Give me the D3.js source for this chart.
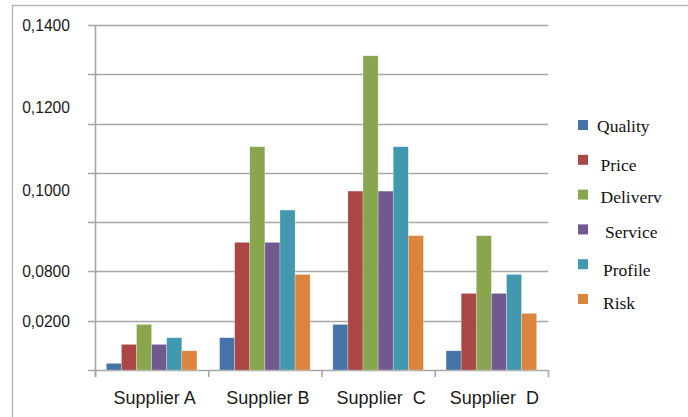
<!DOCTYPE html>
<html>
<head>
<meta charset="utf-8">
<script src="https://cdn.jsdelivr.net/npm/d3@7"></script>
<style>
  html, body { margin: 0; padding: 0; background: #fff; }
  svg { display: block; }
  text { white-space: pre; }
</style>
</head>
<body>
<svg id="chart" width="688" height="417"></svg>
<script>
// Supplier scores per criterion
const categories = ["Supplier A", "Supplier B", "Supplier  C", "Supplier  D"];
const series = ["Quality", "Price", "Deliverv", "Service", "Profile", "Risk"];
const quality  = [0.0027, 0.0131, 0.0185, 0.0078];
const price    = [0.0104, 0.0518, 0.0726, 0.0311];
const delivery = [0.0185, 0.0906, 0.1275, 0.0545];
const service  = [0.0104, 0.0518, 0.0726, 0.0311];
const profile  = [0.0131, 0.0649, 0.0906, 0.0388];
const risk     = [0.0078, 0.0388, 0.0545, 0.0230];
const values = [quality, price, delivery, service, profile, risk];

// Axis labels as printed, and where each one sits along the value axis
const yTickLabels = ["0,1400", "0,1200", "0,1000", "0,0800", "0,0200"];
const yTickAt = [0.14, 0.1067, 0.073, 0.04, 0.02];
const yMax = 0.14;
const gridStep = 0.02;

const colors = ["#4572A7", "#AA4643", "#89A54E", "#71588F", "#4198AF", "#DB843D"];

const svg = d3.select("#chart");
const plot = { left: 95, right: 548, top: 25, bottom: 370 };

// outer frame (left and top edges visible)
svg.append("path")
  .attr("d", "M12.5,417V5.5H688")
  .attr("fill", "none")
  .attr("stroke", "#b4b4b4")
  .attr("stroke-width", 1.3);

const y = d3.scaleLinear().domain([0, yMax]).range([plot.bottom, plot.top]);
const x0 = d3.scaleBand().domain(categories).range([plot.left, plot.right]);
const gap = x0.bandwidth() * 1.5 / 7.5;
const x1 = d3.scaleBand().domain(series).range([gap / 2, x0.bandwidth() - gap / 2]);

// horizontal gridlines with left tick stubs
const gridVals = d3.range(0, yMax + gridStep / 2, gridStep);
svg.append("g").selectAll("line").data(gridVals).join("line")
  .attr("x1", plot.left - 7).attr("x2", plot.right)
  .attr("y1", d => Math.round(y(d)) + 0.5).attr("y2", d => Math.round(y(d)) + 0.5)
  .attr("stroke", "#a6a6a6").attr("stroke-width", 1.6);

// value axis line
svg.append("line")
  .attr("x1", plot.left + 0.5).attr("x2", plot.left + 0.5)
  .attr("y1", plot.top).attr("y2", plot.bottom + 7)
  .attr("stroke", "#a6a6a6").attr("stroke-width", 1.6);

// category separators below the axis
const sepX = categories.map(c => x0(c)).concat([plot.right]);
svg.append("g").selectAll("line").data(sepX).join("line")
  .attr("x1", d => d + 0.5).attr("x2", d => d + 0.5)
  .attr("y1", plot.bottom).attr("y2", plot.bottom + 7)
  .attr("stroke", "#a6a6a6").attr("stroke-width", 1.6);

// bars
const groups = svg.append("g").selectAll("g").data(categories).join("g")
  .attr("transform", c => `translate(${x0(c)},0)`);
groups.selectAll("rect")
  .data((c, ci) => series.map((s, si) => ({ s, si, v: values[si][ci] })))
  .join("rect")
  .attr("x", d => x1(d.s))
  .attr("width", x1.bandwidth())
  .attr("y", d => y(d.v))
  .attr("height", d => y(0) - y(d.v))
  .attr("fill", d => colors[d.si])
  .attr("stroke", "rgba(255,255,255,0.45)")
  .attr("stroke-width", 0.6);

// value axis labels
svg.append("g").selectAll("text").data(yTickLabels).join("text")
  .attr("transform", (d, i) => `translate(70,${y(yTickAt[i]) + 6}) scale(0.92,1)`)
  .attr("text-anchor", "end")
  .attr("font-family", "'Liberation Sans', Arial, sans-serif")
  .attr("font-size", 17)
  .attr("fill", "#1a1a1a")
  .text(d => d);

// category labels
svg.append("g").selectAll("text").data(categories).join("text")
  .attr("x", c => x0(c) + x0.bandwidth() / 2 + 3)
  .attr("y", 404)
  .attr("text-anchor", "middle")
  .attr("font-family", "'Liberation Sans', Arial, sans-serif")
  .attr("font-size", 18)
  .attr("fill", "#1a1a1a")
  .text(c => c);

// legend
const legendTop = 120, legendStep = 34.8;
const legendTextNudge = [[-3, -2.5], [0.5, 2.5], [0.5, -0.5], [5, 0], [3, 3], [3, 1]];
const legend = svg.append("g").selectAll("g").data(series).join("g")
  .attr("transform", (s, i) => `translate(578,${legendTop + i * legendStep})`);
legend.append("rect")
  .attr("width", 10).attr("height", 10)
  .attr("fill", (s, i) => colors[i]);
legend.append("text")
  .attr("x", (s, i) => 22 + legendTextNudge[i][0])
  .attr("y", (s, i) => 14 + legendTextNudge[i][1])
  .attr("font-family", "'Liberation Serif', 'Times New Roman', serif")
  .attr("font-size", 17.5)
  .attr("fill", "#111")
  .text(s => s);
</script>
</body>
</html>
